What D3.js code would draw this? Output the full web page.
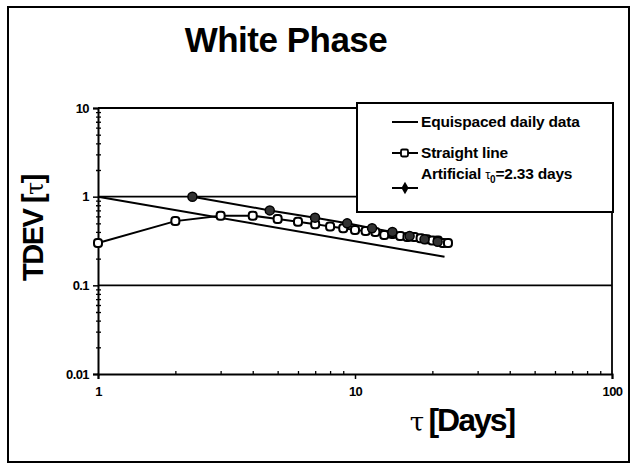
<!DOCTYPE html>
<html>
<head>
<meta charset="utf-8">
<script src="https://cdn.jsdelivr.net/npm/d3@7"></script>
<style>
  html, body { margin: 0; padding: 0; background: #fff; }
  svg { display: block; font-family: "Liberation Sans", Arial, sans-serif; }
</style>
</head>
<body>
<svg id="chart" width="632" height="470"></svg>
<script>
// ---- data ----
const chartTitle = "White Phase";
const seriesNames = ["Equispaced daily data", "Straight line", "Artificial τ0=2.33 days"];

const equispacedTau = [1, 22.3];
const equispacedTdev = [1.0, 0.21];

const straightTau = [1, 2, 3, 4, 5, 6, 7, 8, 9, 10, 11, 12, 13, 14, 15, 16, 17, 18, 19, 20, 21, 22, 23];
const straightTdev = [0.30, 0.53, 0.61, 0.61, 0.56, 0.52, 0.49, 0.46, 0.44, 0.42, 0.41, 0.40, 0.37, 0.38, 0.36, 0.35, 0.35, 0.34, 0.33, 0.32, 0.32, 0.30, 0.30];

const artificialTau = [2.33, 4.66, 6.99, 9.32, 11.65, 13.98, 16.31, 18.64, 20.97];
const artificialTdev = [1.0, 0.70, 0.58, 0.50, 0.44, 0.40, 0.36, 0.33, 0.31];

const xTickValues = [1, 10, 100];
const xTickLabels = ["1", "10", "100"];
const yTickValues = [0.01, 0.1, 1, 10];
const yTickLabels = ["0.01", "0.1", "1", "10"];

// ---- layout ----
const svg = d3.select("#chart");
const pLeft = 98, pRight = 612, pTop = 108, pBottom = 374;

const x = d3.scaleLog().domain([1, 100]).range([pLeft, pRight]);
const y = d3.scaleLog().domain([0.01, 10]).range([pBottom, pTop]);

// outer frame
svg.append("rect").attr("x", 8).attr("y", 7).attr("width", 621).attr("height", 455)
  .attr("fill", "none").attr("stroke", "#000").attr("stroke-width", 2);

// title
svg.append("text").attr("x", 286).attr("y", 52).attr("text-anchor", "middle")
  .attr("font-size", 35).attr("font-weight", "bold").attr("letter-spacing", -0.5)
  .text(chartTitle);

// plot frame: top and right borders
svg.append("line").attr("x1", pLeft).attr("x2", pRight).attr("y1", y(10)).attr("y2", y(10))
  .attr("stroke", "#000").attr("stroke-width", 1.8);
svg.append("line").attr("x1", pRight).attr("x2", pRight).attr("y1", pTop).attr("y2", pBottom)
  .attr("stroke", "#000").attr("stroke-width", 1.8);

// horizontal gridlines
svg.append("g").selectAll("line").data([0.1, 1]).join("line")
  .attr("x1", pLeft).attr("x2", pRight)
  .attr("y1", d => y(d)).attr("y2", d => y(d))
  .attr("stroke", "#000").attr("stroke-width", 1.6);

// axes
const minorVals = [];
[1, 10].forEach(p => { for (let k = 2; k <= 9; k++) minorVals.push(p * k); });
const minorY = [];
[0.01, 0.1, 1].forEach(p => { for (let k = 2; k <= 9; k++) minorY.push(p * k); });

const xAxis = d3.axisBottom(x).tickValues(xTickValues)
  .tickFormat((d, i) => xTickLabels[i]).tickSize(5).tickPadding(8);
const gx = svg.append("g").attr("transform", `translate(0,${pBottom})`).call(xAxis);
gx.select(".domain").attr("stroke-width", 2);
gx.selectAll(".tick line").attr("stroke-width", 1.5);
gx.selectAll("text").attr("font-size", 13).attr("font-weight", "bold").attr("letter-spacing", -0.6);
svg.append("g").attr("transform", `translate(0,${pBottom})`)
  .call(d3.axisTop(x).tickValues(minorVals).tickSize(3).tickFormat(""))
  .call(g => g.select(".domain").remove())
  .selectAll("line").attr("stroke-width", 1.3);

const yAxis = d3.axisLeft(y).tickValues(yTickValues)
  .tickFormat((d, i) => yTickLabels[i]).tickSize(5).tickPadding(4);
const gy = svg.append("g").attr("transform", `translate(${pLeft},0)`).call(yAxis);
gy.select(".domain").attr("stroke-width", 2);
gy.selectAll(".tick line").attr("stroke-width", 1.5);
gy.selectAll("text").attr("font-size", 13).attr("font-weight", "bold").attr("letter-spacing", -0.6);
svg.append("g").attr("transform", `translate(${pLeft},0)`)
  .call(d3.axisRight(y).tickValues(minorY).tickSize(3).tickFormat(""))
  .call(g => g.select(".domain").remove())
  .selectAll("line").attr("stroke-width", 1.3);
svg.append("g").attr("transform", `translate(${pLeft},0)`)
  .call(d3.axisLeft(y).tickValues(minorY).tickSize(2).tickFormat(""))
  .call(g => g.select(".domain").remove())
  .selectAll("line").attr("stroke-width", 1.3);

// axis titles
const yl = svg.append("text").attr("transform", "translate(43,228) rotate(-90)")
  .attr("text-anchor", "middle").attr("font-size", 29).attr("font-weight", "bold")
  .attr("letter-spacing", -1.5);
yl.append("tspan").text("TDEV [");
yl.append("tspan").attr("font-weight", "normal").attr("font-family", "DejaVu Serif").attr("font-size", 24).text("τ");
yl.append("tspan").text("]");

const xl = svg.append("text").attr("x", 462).attr("y", 431)
  .attr("text-anchor", "middle").attr("font-size", 32).attr("font-weight", "bold")
  .attr("letter-spacing", -2);
xl.append("tspan").attr("font-weight", "normal").attr("font-family", "DejaVu Serif").attr("font-size", 26).text("τ ");
xl.append("tspan").text("[Days]");

// lines
const line = d3.line().x(d => x(d[0])).y(d => y(d[1]));
const s1 = equispacedTau.map((t, i) => [t, equispacedTdev[i]]);
const s2 = straightTau.map((t, i) => [t, straightTdev[i]]);
const s3 = artificialTau.map((t, i) => [t, artificialTdev[i]]);

svg.append("path").datum(s1).attr("d", line).attr("fill", "none").attr("stroke", "#000").attr("stroke-width", 2);
svg.append("path").datum(s2).attr("d", line).attr("fill", "none").attr("stroke", "#000").attr("stroke-width", 2);
svg.append("path").datum(s3).attr("d", line).attr("fill", "none").attr("stroke", "#000").attr("stroke-width", 2);

svg.append("g").selectAll("rect").data(s2).join("rect")
  .attr("x", d => x(d[0]) - 4).attr("y", d => y(d[1]) - 4)
  .attr("width", 8).attr("height", 8).attr("rx", 3)
  .attr("fill", "#fff").attr("stroke", "#000").attr("stroke-width", 2);

svg.append("g").selectAll("circle").data(s3).join("circle")
  .attr("cx", d => x(d[0])).attr("cy", d => y(d[1])).attr("r", 4.5)
  .attr("fill", "#333").attr("stroke", "#000").attr("stroke-width", 1.5);

// legend
const lg = svg.append("g");
lg.append("rect").attr("x", 357).attr("y", 103).attr("width", 256).attr("height", 109)
  .attr("fill", "#fff").attr("stroke", "#000").attr("stroke-width", 2);
const lx1 = 392, lx2 = 418, ltx = 421;
const legFont = 15.5;
lg.append("line").attr("x1", lx1).attr("x2", lx2).attr("y1", 122).attr("y2", 122).attr("stroke", "#000").attr("stroke-width", 2);
lg.append("text").attr("x", ltx).attr("y", 127).attr("font-size", legFont).attr("font-weight", "bold").attr("letter-spacing", -0.2).text(seriesNames[0]);

lg.append("line").attr("x1", lx1).attr("x2", lx2).attr("y1", 153).attr("y2", 153).attr("stroke", "#000").attr("stroke-width", 2);
lg.append("rect").attr("x", 401).attr("y", 149.5).attr("width", 7).attr("height", 7).attr("rx", 1.5)
  .attr("fill", "#fff").attr("stroke", "#000").attr("stroke-width", 1.8);
lg.append("text").attr("x", ltx).attr("y", 158).attr("font-size", legFont).attr("font-weight", "bold").attr("letter-spacing", -0.2).text(seriesNames[1]);

const t3 = lg.append("text").attr("x", ltx).attr("y", 179).attr("font-size", legFont).attr("font-weight", "bold").attr("letter-spacing", -0.2);
t3.append("tspan").text("Artificial ");
t3.append("tspan").attr("font-size", 13).attr("font-weight", "normal").text("τ");
t3.append("tspan").attr("font-size", 10).attr("dy", 4).text("0");
t3.append("tspan").attr("dy", -4).text("=2.33 days");

lg.append("line").attr("x1", lx1).attr("x2", lx2).attr("y1", 188).attr("y2", 188).attr("stroke", "#000").attr("stroke-width", 2);
lg.append("path").attr("transform", "translate(405,188)")
  .attr("d", d3.symbol(d3.symbolDiamond, 45)()).attr("fill", "#000");
</script>
</body>
</html>
